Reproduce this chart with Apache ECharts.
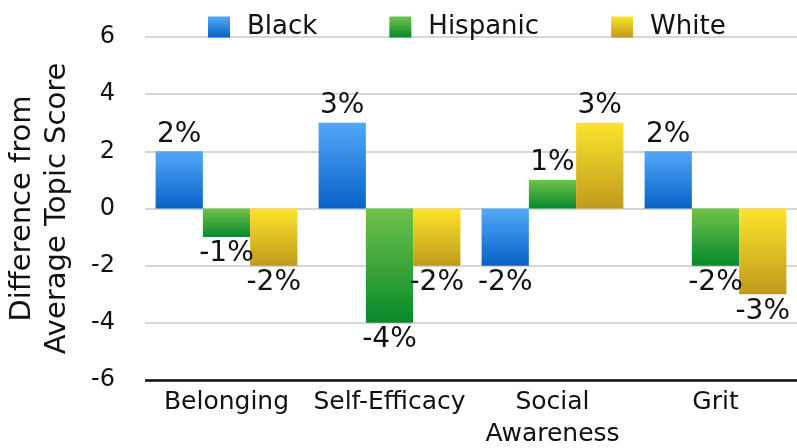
<!DOCTYPE html>
<html>
<head>
<meta charset="utf-8">
<script src="https://cdn.jsdelivr.net/npm/echarts@6/dist/echarts.min.js"></script>
<style>
  html, body { margin: 0; padding: 0; background: #ffffff; }
  #chart { width: 797px; height: 448px; }
</style>
</head>
<body>
<div id="chart"></div>
<script>
// Topic categories and each group's difference from the average topic score (%)
const categories = ['Belonging', 'Self-Efficacy', 'Social Awareness', 'Grit'];
const blackValues = [2, 3, -2, 2];
const hispanicValues = [-1, -4, 1, -2];
const whiteValues = [-2, -2, 3, -3];
const yTicks = [-6, -4, -2, 0, 2, 4, 6];

const FONT = '"DejaVu Sans", sans-serif';

function grad(top, bottom) {
  return new echarts.graphic.LinearGradient(0, 0, 0, 1, [
    { offset: 0, color: top },
    { offset: 1, color: bottom }
  ]);
}

function makeSeries(name, values, top, bottom) {
  return {
    name: name,
    type: 'bar',
    data: values.map(v => ({
      value: v,
      label: { position: v >= 0 ? 'top' : 'bottom' }
    })),
    barGap: '0%',
    barCategoryGap: '13%',
    itemStyle: { color: grad(top, bottom) },
    label: {
      show: true,
      formatter: p => p.value + '%',
      fontFamily: FONT,
      fontSize: 28,
      color: '#111',
      distance: 3
    }
  };
}

const chart = echarts.init(document.getElementById('chart'));
chart.setOption({
  animation: false,
  textStyle: { fontFamily: FONT },
  legend: {
    top: 9,
    left: 203,
    icon: 'rect',
    itemWidth: 22,
    itemHeight: 21,
    itemGap: 72,
    textStyle: { fontFamily: FONT, fontSize: 26, color: '#111', padding: [0, 0, 0, 12] },
    data: ['Black', 'Hispanic', 'White']
  },
  grid: { left: 145, right: 0, top: 37, bottom: 68, outerBoundsMode: 'none', containLabel: false },
  xAxis: {
    type: 'category',
    data: categories,
    axisTick: { show: false },
    axisLine: { show: false },
    axisLabel: {
      fontFamily: FONT,
      fontSize: 25,
      color: '#111',
      margin: 6,
      lineHeight: 32,
      interval: 0,
      formatter: v => v.replace(' ', '\n')
    }
  },
  yAxis: {
    type: 'value',
    min: yTicks[0],
    max: yTicks[yTicks.length - 1],
    interval: 2,
    name: 'Difference from\nAverage Topic Score',
    nameLocation: 'middle',
    nameGap: 70,
    nameTextStyle: { fontFamily: FONT, fontSize: 29, color: '#111', lineHeight: 35 },
    axisLine: { show: false },
    axisTick: { show: false },
    axisLabel: { fontFamily: FONT, fontSize: 24, color: '#111', margin: 30 },
    splitLine: { lineStyle: { color: '#c8c8c8', width: 1.5 } }
  },
  series: [
    makeSeries('Black', blackValues, '#52a8f7', '#0862c6'),
    makeSeries('Hispanic', hispanicValues, '#70c24a', '#07892b'),
    makeSeries('White', whiteValues, '#fde32c', '#bf9a1b'),
    {
      // baseline drawn along the bottom of the value range
      type: 'line',
      data: [],
      markLine: {
        silent: true,
        symbol: 'none',
        label: { show: false },
        lineStyle: { color: '#111', width: 2.5, type: 'solid' },
        data: [{ yAxis: yTicks[0] }]
      }
    }
  ]
});
</script>
</body>
</html>
